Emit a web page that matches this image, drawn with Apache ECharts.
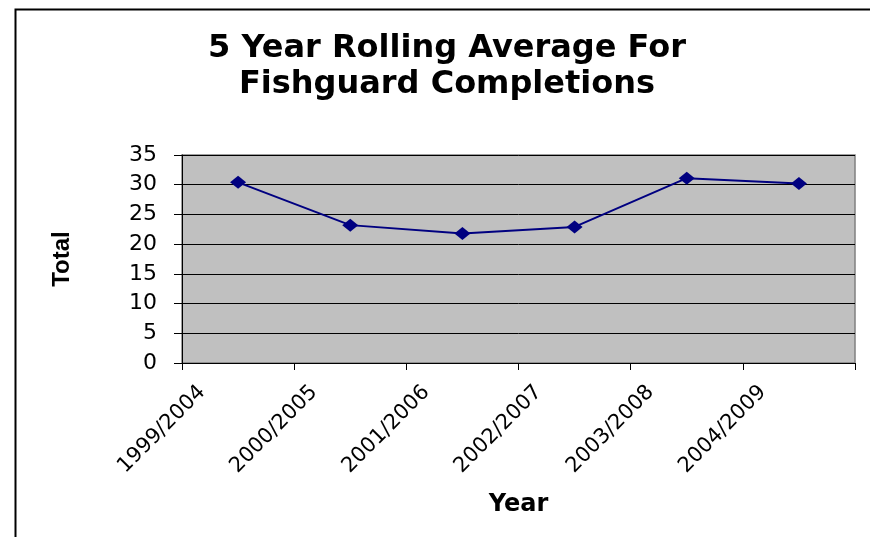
<!DOCTYPE html>
<html>
<head>
<meta charset="utf-8">
<script src="https://cdn.jsdelivr.net/npm/echarts@6/dist/echarts.min.js"></script>
<style>
html,body{margin:0;padding:0;background:#fff;}
#chart{width:870px;height:537px;}
</style>
</head>
<body>
<div id="chart"></div>
<script>
const titleLines = ['5 Year Rolling Average For', 'Fishguard Completions'];
const categories = ['1999/2004', '2000/2005', '2001/2006', '2002/2007', '2003/2008', '2004/2009'];
const totals = [30.4, 23.2, 21.8, 22.9, 31.1, 30.2];
const yTicks = { min: 0, max: 35, interval: 5 };
const xName = 'Year';
const yName = 'Total';

const chart = echarts.init(document.getElementById('chart'), null, { renderer: 'canvas' });
chart.setOption({
  backgroundColor: '#ffffff',
  animation: false,
  title: {
    text: titleLines.join('\n'),
    left: 447,
    top: 31,
    padding: 0,
    textAlign: 'center',
    textStyle: {
      fontFamily: 'DejaVu Sans',
      fontWeight: 'bold',
      fontSize: 32,
      lineHeight: 36,
      color: '#000'
    }
  },
  graphic: [{
    type: 'rect',
    shape: { x: 15.5, y: 9.5, width: 900, height: 600 },
    style: { fill: 'none', stroke: '#000', lineWidth: 2 },
    silent: true
  }],
  grid: {
    left: 182,
    top: 155,
    right: 15,
    bottom: 174,
    show: true,
    backgroundColor: '#C0C0C0',
    borderColor: '#808080',
    borderWidth: 1.5
  },
  xAxis: {
    type: 'category',
    data: categories,
    boundaryGap: true,
    name: xName,
    nameLocation: 'middle',
    nameGap: 130,
    nameTextStyle: { fontFamily: 'DejaVu Sans', fontWeight: 'bold', fontSize: 24, color: '#000' },
    axisLine: { show: true, lineStyle: { color: '#000', width: 1 } },
    axisTick: { show: true, alignWithLabel: false, length: 7, lineStyle: { color: '#000' } },
    axisLabel: {
      interval: 0,
      rotate: 45,
      margin: -10,
      padding: [0, 51, 0, 0],
      fontFamily: 'DejaVu Sans',
      fontSize: 21,
      color: '#000'
    },
    splitLine: { show: false }
  },
  yAxis: {
    type: 'value',
    min: yTicks.min,
    max: yTicks.max,
    interval: yTicks.interval,
    name: yName,
    nameLocation: 'middle',
    nameGap: 108,
    nameRotate: 90,
    nameTextStyle: { fontFamily: 'Liberation Sans', fontWeight: 'bold', fontSize: 24, color: '#000' },
    axisLine: { show: true, lineStyle: { color: '#000', width: 1 } },
    axisTick: { show: true, length: 8, lineStyle: { color: '#000' } },
    axisLabel: {
      margin: 25,
      fontFamily: 'DejaVu Sans',
      fontSize: 22,
      color: '#000'
    },
    splitLine: { show: true, lineStyle: { color: '#000', width: 1 } }
  },
  series: [{
    type: 'line',
    data: totals,
    symbol: 'diamond',
    symbolSize: [16, 13],
    itemStyle: { color: '#000080' },
    lineStyle: { color: '#000080', width: 2 }
  }]
});
</script>
</body>
</html>
